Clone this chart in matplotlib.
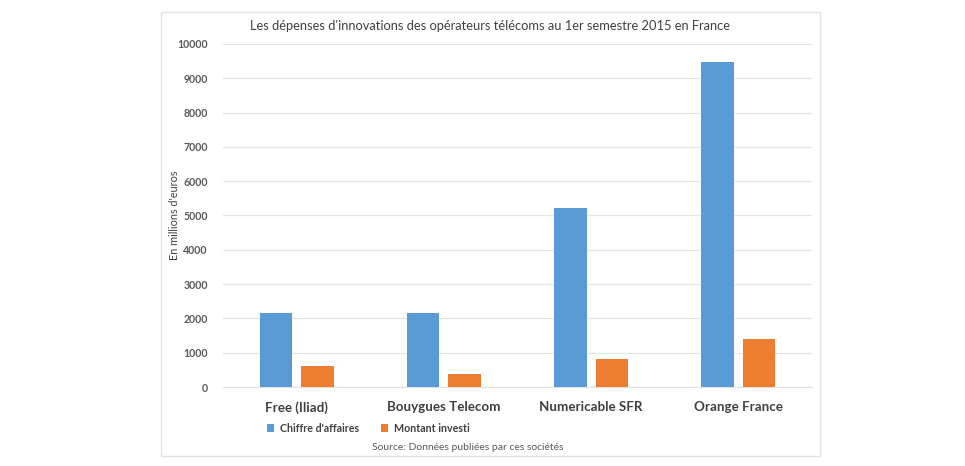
import matplotlib
matplotlib.use("Agg")
import matplotlib.pyplot as plt
from matplotlib.patches import Rectangle
import numpy as np

categories = ["Free (Iliad)", "Bouygues Telecom", "Numericable SFR", "Orange France"]
chiffre_affaires = [2155, 2155, 5215, 9470]
montant_investi = [610, 390, 805, 1400]
series_names = ["Chiffre d'affaires", "Montant investi"]
yticks = [0, 1000, 2000, 3000, 4000, 5000, 6000, 7000, 8000, 9000, 10000]

plt.rcParams['font.family'] = ['Lato', 'DejaVu Sans']

W, H = 965, 466
fig = plt.figure(figsize=(W / 100, H / 100), dpi=100)
fig.patch.set_facecolor('white')

# chart frame
fig.patches.append(Rectangle((161 / W, (H - 456) / H), (820 - 161) / W, (456 - 12) / H,
                             transform=fig.transFigure, fill=False,
                             edgecolor='#e3e3e3', linewidth=1.0))

ax = fig.add_axes([223 / W, (H - 387) / H, (812 - 223) / W, (387 - 44) / H])
x = np.arange(len(categories))
bw = 0.222
off = 0.141
blue = '#5B9BD5'
orange = '#ED7D31'
ax.bar(x - off, chiffre_affaires, bw, color=blue, label=series_names[0], zorder=3)
ax.bar(x + off, montant_investi, bw, color=orange, label=series_names[1], zorder=3)

ax.set_xlim(-0.5, len(categories) - 0.5)
ax.set_ylim(0, 10000)
ax.set_yticks(yticks)
ax.set_yticklabels([str(v) for v in yticks], fontsize=7.6, color='#595959', fontweight='bold')
ax.set_xticks(x)
ax.set_xticklabels(categories, fontsize=9.6, color='#404040', fontweight='bold')
ax.tick_params(axis='both', length=0)
ax.tick_params(axis='y', pad=11)
ax.tick_params(axis='x', pad=10)
ax.grid(axis='y', color='#e6e6e6', linewidth=0.9, zorder=0)
for s in ['top', 'right', 'left']:
    ax.spines[s].set_visible(False)
ax.spines['bottom'].set_color('#e0e0e0')

fig.text(175 / W, 1 - 215 / H, "En millions d'euros", rotation=90, ha='center', va='center',
         fontsize=7.8, color='#404040')
fig.text(490 / W, 1 - 26 / H, "Les dépenses d'innovations des opérateurs télécoms au 1er semestre 2015 en France",
         ha='center', va='center', fontsize=9.3, color='#404040')

leg = fig.legend(loc='center left', bbox_to_anchor=(267 / W, 1 - 428 / H), ncol=2, frameon=False,
                 fontsize=7.7, handlelength=0.7, handleheight=0.7, handletextpad=0.55,
                 columnspacing=2.0, borderpad=0, borderaxespad=0)
for t in leg.get_texts():
    t.set_color('#404040')
    t.set_fontweight('bold')

fig.text(468 / W, 1 - 448 / H, "Source: Données publiées par ces sociétés", ha='center', va='center',
         fontsize=7.5, color='#595959')

fig.savefig('out.png', dpi=100, facecolor='white')
